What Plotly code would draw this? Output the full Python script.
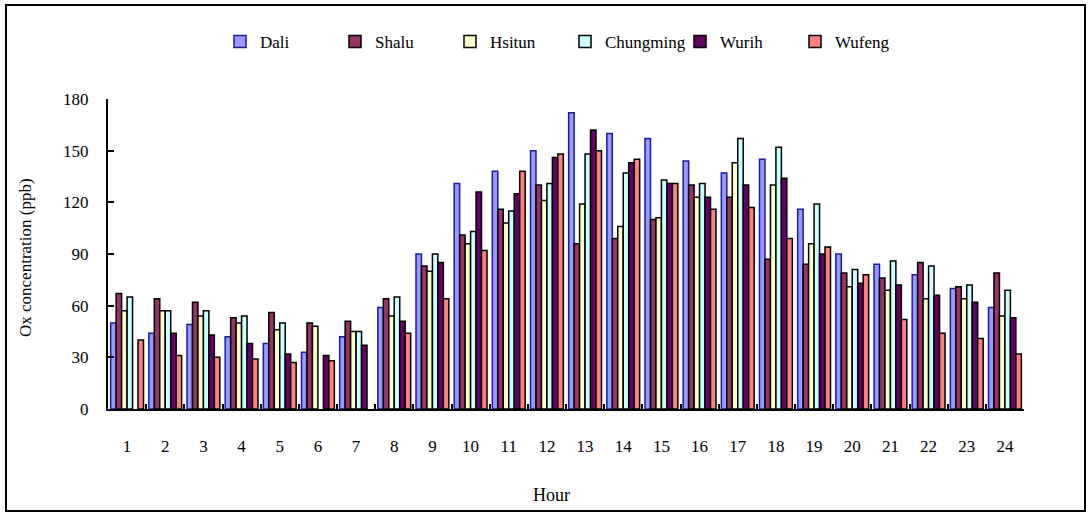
import plotly.graph_objects as go

hours = [str(h) for h in range(1, 25)]
dali = [50, 44, 49, 42, 38, 33, 42, 59, 90, 131, 138, 150, 172, 160, 157, 144, 137, 145, 116, 90, 84, 78, 70, 59]
shalu = [67, 64, 62, 53, 56, 50, 51, 64, 83, 101, 116, 130, 96, 99, 110, 130, 123, 87, 84, 79, 76, 85, 71, 79]
hsitun = [57, 57, 54, 50, 46, 48, 45, 54, 80, 96, 108, 121, 119, 106, 111, 123, 143, 130, 96, 71, 69, 64, 64, 54]
chungming = [65, 57, 57, 54, 50, None, 45, 65, 90, 103, 115, 131, 148, 137, 133, 131, 157, 152, 119, 81, 86, 83, 72, 69]
wurih = [None, 44, 43, 38, 32, 31, 37, 51, 85, 126, 125, 146, 162, 143, 131, 123, 130, 134, 90, 73, 72, 66, 62, 53]
wufeng = [40, 31, 30, 29, 27, 28, None, 44, 64, 92, 138, 148, 150, 145, 131, 116, 117, 99, 94, 78, 52, 44, 41, 32]

series = [
    ("Dali", dali, "#9999FF", "#1a1aa0"),
    ("Shalu", shalu, "#993366", "#000000"),
    ("Hsitun", hsitun, "#FFFFCC", "#000000"),
    ("Chungming", chungming, "#CCFFFF", "#000000"),
    ("Wurih", wurih, "#660066", "#000000"),
    ("Wufeng", wufeng, "#FF8080", "#000000"),
]

FONT = "Liberation Serif"

fig = go.Figure()
for name, vals, fill, edge in series:
    fig.add_trace(go.Bar(
        x=hours, y=vals, name=name,
        marker=dict(color=fill, line=dict(color=edge, width=1.5)),
    ))

W, H = 1088, 514
L, R, T, B = 108, 64, 99, 105
pw = W - L - R
ph = H - T - B

def px_x(px):
    return (px - L) / pw

def px_y(py):
    return (H - B - py) / ph

fig.update_layout(
    width=W, height=H,
    margin=dict(l=L, r=R, t=T, b=B),
    paper_bgcolor="white", plot_bgcolor="white",
    barmode="group", bargap=0.14, bargroupgap=0,
    font=dict(family=FONT, size=17, color="black"),
    showlegend=True,
    legend=dict(
        orientation="h", x=px_x(220), y=px_y(42), xanchor="left", yanchor="middle",
        entrywidth=70, entrywidthmode="pixels",
        font=dict(family=FONT, size=17, color="black"),
        bgcolor="rgba(0,0,0,0)", tracegroupgap=0, itemwidth=30,
    ),
    xaxis=dict(
        showline=True, linecolor="black", linewidth=2,
        ticks="inside", ticklen=5, tickwidth=1.5, tickcolor="black",
        tickson="boundaries", showgrid=False, zeroline=False,
        ticklabelstandoff=21,
        tickfont=dict(family=FONT, size=17),
    ),
    yaxis=dict(
        range=[0, 180], tickvals=[0, 30, 60, 90, 120, 150, 180],
        showline=True, linecolor="black", linewidth=2,
        ticks="inside", ticklen=6, tickwidth=1.5, tickcolor="black",
        showgrid=False, zeroline=False,
        ticklabelstandoff=14,
        tickfont=dict(family=FONT, size=17),
    ),
    annotations=[
        dict(text="Hour", xref="paper", yref="paper", x=px_x(551), y=px_y(495),
             showarrow=False, xanchor="center", yanchor="middle",
             font=dict(family=FONT, size=18)),
        dict(text="Ox concentration (ppb)", xref="paper", yref="paper",
             x=px_x(25), y=px_y(258), textangle=-90, showarrow=False,
             xanchor="center", yanchor="middle", font=dict(family=FONT, size=17)),
    ],
    shapes=[
        dict(type="rect", xref="paper", yref="paper",
             x0=px_x(6), x1=px_x(1085), y0=px_y(511), y1=px_y(5),
             line=dict(color="black", width=2), fillcolor="rgba(0,0,0,0)", layer="below"),
    ],
)

fig.write_html("out.html")
